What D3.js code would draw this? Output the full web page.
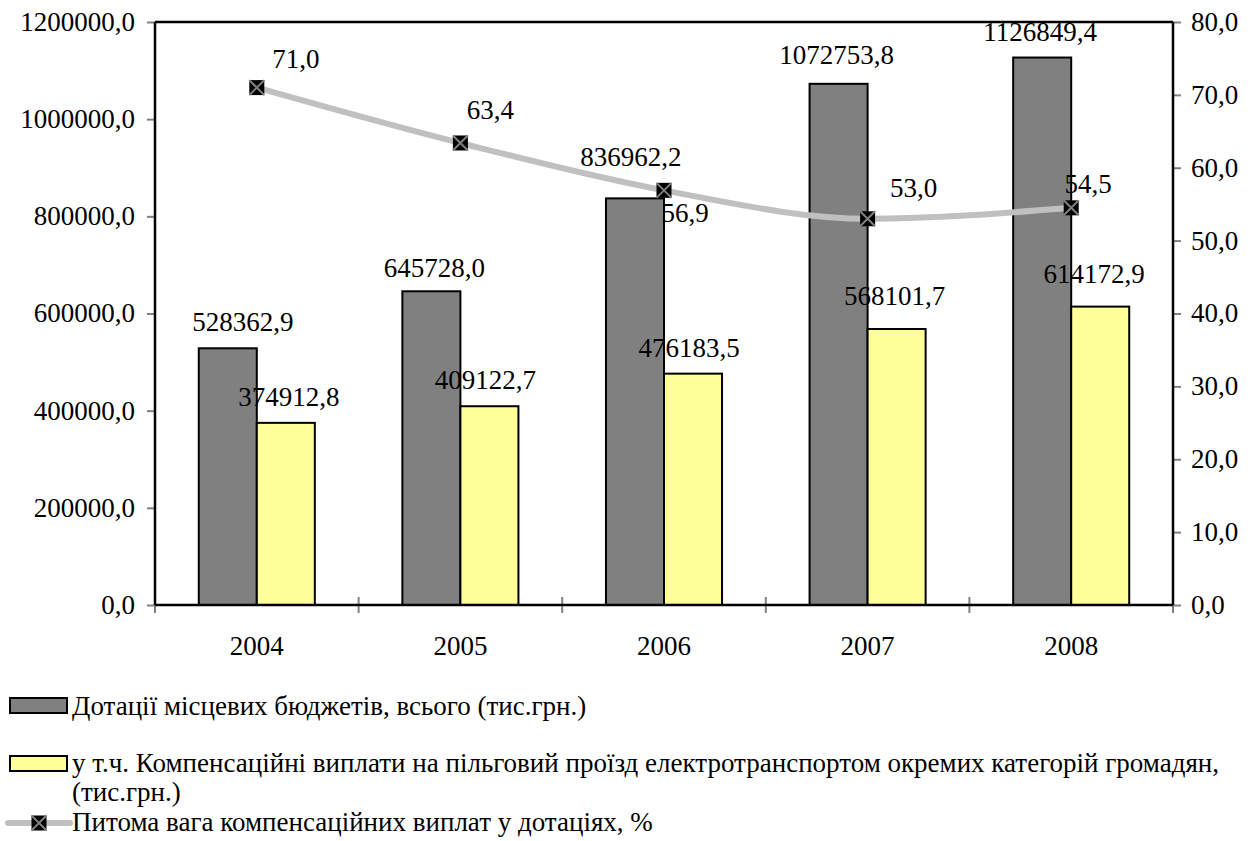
<!DOCTYPE html>
<html>
<head>
<meta charset="utf-8">
<script src="https://cdn.jsdelivr.net/npm/d3@7"></script>
</head>
<body style="margin:0">
<svg id="chart" width="1258" height="841"></svg>
<script>
// ---- data ----
const years = ["2004", "2005", "2006", "2007", "2008"];
const subsidies = [528362.9, 645728.0, 836962.2, 1072753.8, 1126849.4];
const compensations = [374912.8, 409122.7, 476183.5, 568101.7, 614172.9];
const sharePct = [71.0, 63.4, 56.9, 53.0, 54.5];
const leftTicks = [0, 200000, 400000, 600000, 800000, 1000000, 1200000];
const rightTicks = [0, 10, 20, 30, 40, 50, 60, 70, 80];
const legendLabels = [
  "Дотації місцевих бюджетів, всього (тис.грн.)",
  "у т.ч. Компенсаційні виплати на пільговий проїзд електротранспортом окремих категорій громадян,",
  "(тис.грн.)",
  "Питома вага компенсаційних виплат у дотаціях, %"
];

// hand-placed label nudges [dx, dy] relative to the default spot
const subsidyNudge = [[15, 0], [3, 3], [-4, -15], [-2, -3], [-2, 1]];
const compNudge = [[3, 0], [-4, 0], [-4, 0], [-2, -7], [-6, -7]];
const shareNudge = [[39, -28], [30, -33], [21, 23], [46, -31], [17, -24]];

// ---- layout ----
const plot = { left: 155, right: 1173, top: 22, bottom: 605 };
const FS = 27;
const grayFill = "#808080", yellowFill = "#ffff99", lineCol = "#c0c0c0", tickCol = "#808080";

const svg = d3.select("#chart");
const fmt = v => d3.format(".1f")(v).replace(".", ",");

// every text is placed straight on the svg root
function addText(px, py, txt, anchor) {
  return svg.append("text")
    .attr("x", px).attr("y", py + FS * 0.33)
    .style("font-family", "'Liberation Serif'")
    .attr("font-size", FS)
    .attr("text-anchor", anchor || "start")
    .text(txt);
}

const x = d3.scaleBand().domain(years).range([plot.left, plot.right])
  .paddingInner(0.43).paddingOuter(0.215);
const xSub = d3.scaleBand().domain(["s", "c"]).range([0, x.bandwidth()]);
const yL = d3.scaleLinear().domain([0, 1200000]).range([plot.bottom, plot.top]);
const yR = d3.scaleLinear().domain([0, 80]).range([plot.bottom, plot.top]);
const cx = y => x(y) + x.bandwidth() / 2;

// bars
const bars = svg.append("g");
bars.selectAll("rect.s").data(years).join("rect")
  .attr("x", d => x(d) + xSub("s")).attr("width", xSub.bandwidth())
  .attr("y", (d, i) => yL(subsidies[i])).attr("height", (d, i) => yL(0) - yL(subsidies[i]))
  .attr("fill", grayFill).attr("stroke", "#000").attr("stroke-width", 2);
bars.selectAll("rect.c").data(years).join("rect")
  .attr("x", d => x(d) + xSub("c")).attr("width", xSub.bandwidth())
  .attr("y", (d, i) => yL(compensations[i])).attr("height", (d, i) => yL(0) - yL(compensations[i]))
  .attr("fill", yellowFill).attr("stroke", "#000").attr("stroke-width", 2);

// axes: tick marks from d3.axis, tick labels placed from the same scales
const axisL = d3.axisLeft(yL).tickValues(leftTicks).tickFormat("").tickSize(8);
const axisR = d3.axisRight(yR).tickValues(rightTicks).tickFormat("").tickSize(8);
function styleAxis(g) {
  g.select(".domain").remove();
  g.selectAll(".tick text").remove();
  g.selectAll(".tick line").attr("stroke", tickCol).attr("stroke-width", 2);
}
svg.append("g").attr("transform", `translate(${plot.left},0)`).call(axisL).call(styleAxis);
svg.append("g").attr("transform", `translate(${plot.right},0)`).call(axisR).call(styleAxis);
leftTicks.forEach(t => addText(plot.left - 20, yL(t), fmt(t), "end"));
rightTicks.forEach(t => addText(plot.right + 18, yR(t), fmt(t), "start"));

// category boundary ticks on the baseline
const step = x.step();
const bounds = d3.range(years.length + 1).map(i => plot.left + i * step);
svg.append("g").selectAll("line").data(bounds).join("line")
  .attr("x1", d => d).attr("x2", d => d).attr("y1", plot.bottom - 8).attr("y2", plot.bottom + 8)
  .attr("stroke", tickCol).attr("stroke-width", 2);

// frame lines
const frame = svg.append("g").attr("stroke", "#000").attr("stroke-width", 2.5).attr("fill", "none");
frame.append("line").attr("x1", plot.left).attr("x2", plot.right).attr("y1", plot.top).attr("y2", plot.top);
frame.append("line").attr("x1", plot.left).attr("x2", plot.right).attr("y1", plot.bottom).attr("y2", plot.bottom);
frame.append("line").attr("x1", plot.left).attr("x2", plot.left).attr("y1", plot.top).attr("y2", plot.bottom);
frame.append("line").attr("x1", plot.right).attr("x2", plot.right).attr("y1", plot.top).attr("y2", plot.bottom);

// category labels
years.forEach(y => addText(cx(y), plot.bottom + 41, y, "middle"));

// share line
const line = d3.line().x((d, i) => cx(years[i])).y(d => yR(d)).curve(d3.curveMonotoneX);
svg.append("path").datum(sharePct).attr("d", line)
  .attr("fill", "none").attr("stroke", lineCol).attr("stroke-width", 6);

function marker(g, px, py, s) {
  g.append("rect").attr("x", px - s / 2).attr("y", py - s / 2).attr("width", s).attr("height", s).attr("fill", "#000");
  g.append("path").attr("d", `M${px - s / 2},${py - s / 2}L${px + s / 2},${py + s / 2}M${px + s / 2},${py - s / 2}L${px - s / 2},${py + s / 2}`)
    .attr("stroke", tickCol).attr("stroke-width", 2);
}
const markers = svg.append("g");
sharePct.forEach((v, i) => marker(markers, cx(years[i]), yR(v), 15));

// value labels
subsidies.forEach((v, i) => addText(
  x(years[i]) + xSub("s") + xSub.bandwidth() / 2 + subsidyNudge[i][0],
  yL(v) - 26 + subsidyNudge[i][1], fmt(v), "middle"));
compensations.forEach((v, i) => addText(
  x(years[i]) + xSub("c") + xSub.bandwidth() / 2 + compNudge[i][0],
  yL(v) - 26 + compNudge[i][1], fmt(v), "middle"));
sharePct.forEach((v, i) => addText(
  cx(years[i]) + shareNudge[i][0], yR(v) + shareNudge[i][1], fmt(v), "middle"));

// legend
const lg = svg.append("g");
lg.append("rect").attr("x", 10).attr("y", 698).attr("width", 57).attr("height", 15)
  .attr("fill", grayFill).attr("stroke", "#000").attr("stroke-width", 2);
lg.append("rect").attr("x", 10).attr("y", 756).attr("width", 57).attr("height", 15)
  .attr("fill", yellowFill).attr("stroke", "#000").attr("stroke-width", 2);
lg.append("line").attr("x1", 8).attr("x2", 70).attr("y1", 823).attr("y2", 823)
  .attr("stroke", lineCol).attr("stroke-width", 6).attr("stroke-linecap", "round");
marker(lg, 39, 823, 15);
addText(72, 706, legendLabels[0]);
addText(72, 763, legendLabels[1]);
addText(72, 792, legendLabels[2]);
addText(72, 822, legendLabels[3]);
</script>
</body>
</html>
